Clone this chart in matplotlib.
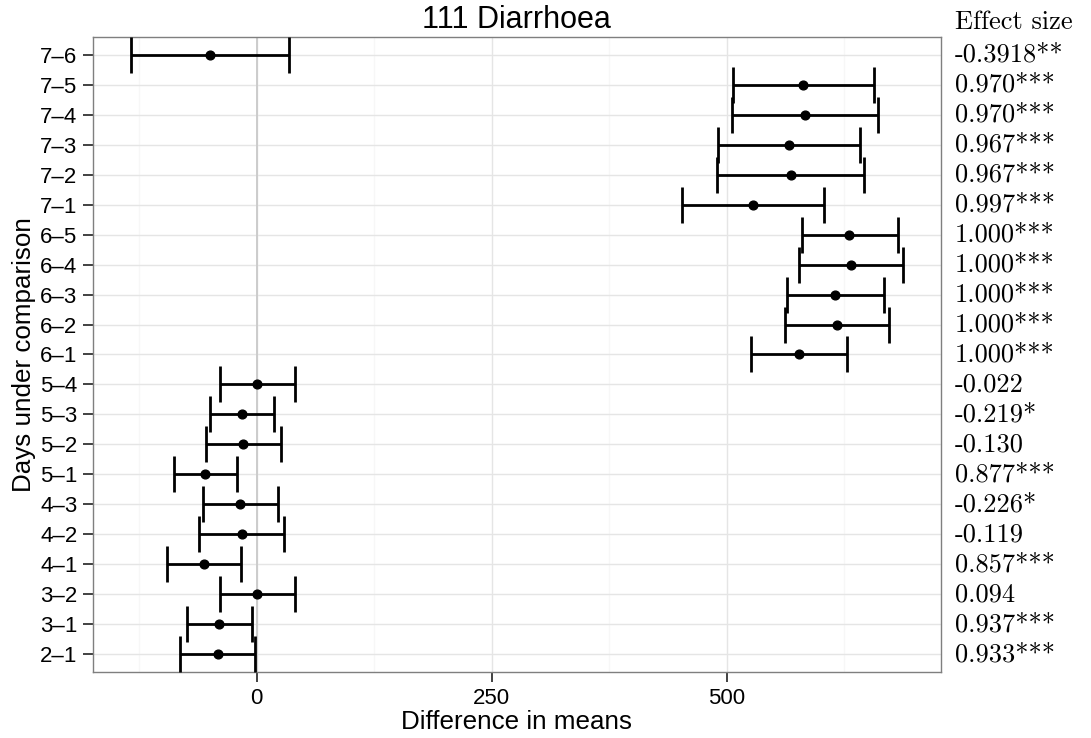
import matplotlib
matplotlib.use("Agg")
import matplotlib.pyplot as plt
import matplotlib.transforms as mtransforms
from matplotlib.ticker import FixedLocator

plt.rcParams['font.family'] = ['Liberation Sans', 'DejaVu Sans']
plt.rcParams['mathtext.fontset'] = 'cm'

# pairwise comparisons, bottom row first
comparisons = ['2–1', '3–1', '3–2', '4–1', '4–2', '4–3', '5–1', '5–2', '5–3', '5–4',
               '6–1', '6–2', '6–3', '6–4', '6–5', '7–1', '7–2', '7–3', '7–4', '7–5', '7–6']
diff_mean = [-41.5, -39.7, 0.7, -56.4, -15.6, -17.4, -54.7, -14.2, -15.3, 0.7,
             576.6, 617.0, 615.5, 632.2, 630.4, 527.7, 568.0, 566.6, 583.3, 581.5, -50.0]
ci_lower = [-81.2, -73.8, -39.4, -95.7, -61.0, -57.1, -88.0, -53.6, -50.0, -38.7,
            525.5, 562.0, 564.1, 576.9, 579.8, 452.4, 490.0, 491.1, 505.3, 506.4, -134.0]
ci_upper = [-1.4, -5.3, 41.0, -16.4, 29.4, 23.0, -21.0, 25.9, 18.1, 40.7,
            628.0, 672.7, 667.3, 687.9, 681.9, 603.2, 646.0, 642.2, 661.3, 656.7, 34.7]
effect_size = ['0.933', '0.937', '0.094', '0.857', '-0.119', '-0.226', '0.877', '-0.130',
               '-0.219', '-0.022', '1.000', '1.000', '1.000', '1.000', '1.000', '0.997',
               '0.967', '0.967', '0.970', '0.970', '-0.3918']
signif = ['***', '***', '', '***', '', '*', '***', '', '*', '', '***', '***', '***', '***',
          '***', '***', '***', '***', '***', '***', '**']

fig = plt.figure(figsize=(10.91, 7.38), dpi=100)
ax = fig.add_axes([0.085, 0.089, 0.7775, 0.8613])

ypos = list(range(1, len(comparisons) + 1))
xerr = [[m - lo for m, lo in zip(diff_mean, ci_lower)],
        [hi - m for m, hi in zip(diff_mean, ci_upper)]]

# grid first, then reference line at zero, then the intervals
ax.set_axisbelow(True)
ax.xaxis.set_minor_locator(FixedLocator([-125, 125, 375, 625]))
ax.grid(which='major', color='#e5e5e5', lw=1.0)
ax.grid(which='minor', axis='x', color='#f7f7f7', lw=1.0)
ax.axvline(0, color='#cccccc', lw=1.4, zorder=1.5)

ax.errorbar(diff_mean, ypos, xerr=xerr, fmt='o', color='black', ms=6.3,
            elinewidth=2.0, capsize=13, capthick=2.0, zorder=3)

ax.set_xlim(-174.5, 728)
ax.set_ylim(0.4, 21.6)
ax.set_xticks([0, 250, 500])
ax.set_yticks(ypos)
ax.set_yticklabels(comparisons)
ax.tick_params(axis='both', which='major', length=7, width=1.3, color='#333333',
               labelsize=16, labelcolor='black', pad=4)
ax.tick_params(axis='x', which='minor', length=0)
for s in ax.spines.values():
    s.set_color('#7f7f7f')
    s.set_linewidth(1.0)

ax.set_title('111 Diarrhoea', fontsize=22, pad=6)
ax.set_xlabel('Difference in means', fontsize=18.7, labelpad=1)
ax.set_ylabel('Days under comparison', fontsize=18.7, labelpad=3)

# effect sizes printed beside each row in Computer Modern
trans = mtransforms.blended_transform_factory(fig.transFigure, ax.transData)
x_txt = 955 / 1091
for y, val, st in zip(ypos, effect_size, signif):
    ax.text(x_txt, y, val + st, transform=trans, family='cmr10', fontsize=19,
            ha='left', va='center', clip_on=False)
fig.text(x_txt, 1 - 22 / 738, 'Effect size', family='cmr10', fontsize=19,
         ha='left', va='center')

fig.savefig('out.png', dpi=100)
